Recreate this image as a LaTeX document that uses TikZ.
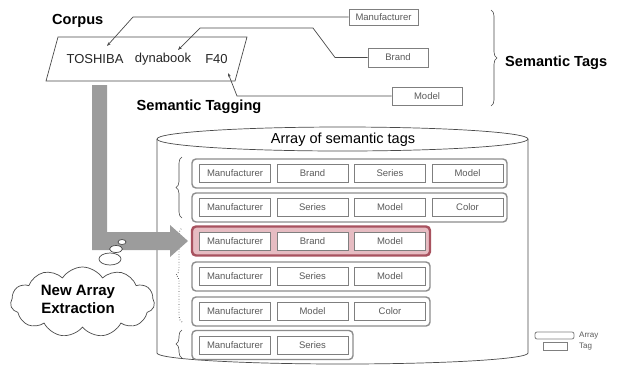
\documentclass[tikz,border=0pt]{standalone}
\usepackage{fontspec}
\setmainfont{Liberation Sans}
\usetikzlibrary{shapes.symbols,decorations.pathreplacing,arrows.meta}
\definecolor{tagline}{HTML}{7F7F7F}
\definecolor{tagtext}{HTML}{5A5A5A}
\definecolor{rowline}{HTML}{8C8C8C}
\definecolor{hlred}{HTML}{A8525F}
\definecolor{hlfill}{HTML}{E6BCC2}
\definecolor{arrowgray}{HTML}{9C9C9C}
\definecolor{inkline}{HTML}{4A4A4A}
\begin{document}
\begin{tikzpicture}[x=1pt,y=-1pt,
  tagbox/.style={draw=tagline, line width=0.8pt, minimum width=71pt, minimum height=18pt, inner sep=0pt, text=tagtext, font=\fontsize{9.5}{10}\selectfont, fill=white},
  toptag/.style={tagbox, minimum height=17pt},
  arraybox/.style={draw=rowline, line width=1.4pt, rounded corners=4pt, minimum height=29pt, inner sep=0pt},
  hlbox/.style={draw=hlred, line width=2.4pt, fill=hlfill, rounded corners=4pt, minimum height=29pt, inner sep=0pt},
  boldlabel/.style={font=\fontsize{14.6}{16}\selectfont\bfseries, inner sep=0pt},
  word/.style={font=\fontsize{13}{15}\selectfont, text=black!85, inner sep=0pt},
  conn/.style={draw=inkline, line width=0.7pt},
  tipconn/.style={conn, -{Stealth[length=4pt,width=3pt]}},
  leftbrace/.style={draw=inkline, line width=0.6pt, decorate, decoration={brace, amplitude=6pt}},
  shape line/.style={draw=inkline, line width=0.7pt},
  legendtext/.style={font=\fontsize{8}{9}\selectfont, text=tagtext, anchor=west, inner sep=0pt},
]
\useasboundingbox (0,0) rectangle (617,365);

% ---------- Corpus ----------
\node[boldlabel, anchor=west] (corpus) at (52,21) {Corpus};
\draw[shape line, fill=white] (58,37) -- (247,37) -- (235,81) -- (46,81) -- cycle;
\node[word] (toshiba) at (95,59) {TOSHIBA};
\node[word] (dynabook) at (163,59) {dynabook};
\node[word] (f40) at (216.5,59) {F40};
\coordinate (tipT) at (107,46);
\coordinate (tipD) at (178,50);
\coordinate (tipF) at (228,73);

% ---------- Semantic tags ----------
\node[toptag, minimum width=69pt, minimum height=16pt] (tmfr) at (383.5,17) {Manufacturer};
\node[toptag, minimum width=60pt, minimum height=19pt] (tbrand) at (398,57.5) {Brand};
\node[toptag, minimum width=70pt, minimum height=18pt] (tmodel) at (427,96) {Model};

\draw[tipconn] (tmfr.west) -- (133,17) -- (tipT);
\draw[tipconn] (tbrand.west) -- (335,57.5) -- (313,28) -- (200,28) -- (tipD);
\draw[tipconn] (tmodel.west) -- (237,96) -- (tipF);

\node[boldlabel] (tagging) at (199,107) {Semantic Tagging};

\draw[draw=inkline, line width=0.6pt, decorate, decoration={brace, amplitude=6pt}] (491,10) -- (491,106);
\node[boldlabel, anchor=west] (semtags) at (505,63) {Semantic Tags};

% ---------- Cylinder ----------
\draw[shape line, fill=white] (157,139) -- (157,353) arc[start angle=180, end angle=360, x radius=185.5pt, y radius=11pt] -- (528,139);
\draw[shape line, fill=white] (342.5,139) ellipse [x radius=185.5pt, y radius=12pt];
\node[font=\fontsize{14.5}{16}\selectfont, inner sep=0pt] (arraytitle) at (343,140) {Array of semantic tags};

% ---------- Rows ----------
% row 1
\node[arraybox, minimum width=315pt] (r1) at (349.5,173.5) {};
\node[tagbox] (r1a) at (235,173.5) {Manufacturer};
\node[tagbox] (r1b) at (312.5,173.5) {Brand};
\node[tagbox] (r1c) at (390,173.5) {Series};
\node[tagbox] (r1d) at (467.5,173.5) {Model};
% row 2
\node[arraybox, minimum width=315pt] (r2) at (349.5,207.5) {};
\node[tagbox] (r2a) at (235,207.5) {Manufacturer};
\node[tagbox] (r2b) at (312.5,207.5) {Series};
\node[tagbox] (r2c) at (390,207.5) {Model};
\node[tagbox] (r2d) at (467.5,207.5) {Color};
% row 3 (new)
\node[hlbox, minimum width=238pt] (r3) at (311,241) {};
\node[tagbox] (r3a) at (235,241) {Manufacturer};
\node[tagbox] (r3b) at (312.5,241) {Brand};
\node[tagbox] (r3c) at (390,241) {Model};
% row 4
\node[arraybox, minimum width=238pt] (r4) at (311,276.5) {};
\node[tagbox] (r4a) at (235,276.5) {Manufacturer};
\node[tagbox] (r4b) at (312.5,276.5) {Series};
\node[tagbox] (r4c) at (390,276.5) {Model};
% row 5
\node[arraybox, minimum width=238pt] (r5) at (311,311.5) {};
\node[tagbox] (r5a) at (235,311.5) {Manufacturer};
\node[tagbox] (r5b) at (312.5,311.5) {Model};
\node[tagbox] (r5c) at (390,311.5) {Color};
% row 6
\node[arraybox, minimum width=161pt] (r6) at (272.5,345) {};
\node[tagbox] (r6a) at (235,345) {Manufacturer};
\node[tagbox] (r6b) at (312.5,345) {Series};

% ---------- Left braces ----------
\draw[leftbrace] (182,218) -- (182,157);
\draw[leftbrace, dotted, line width=0.9pt] (182,322) -- (182,228);
\draw[leftbrace] (182,358) -- (182,330);

% ---------- Big gray arrow ----------
\fill[arrowgray] (92,85) -- (107,85) -- (107,232) -- (170,232) -- (170,225) -- (188,241)
  -- (170,257) -- (170,250) -- (92,250) -- cycle;

% ---------- Thought cloud ----------
\draw[shape line, fill=white] (110,259) ellipse [x radius=11pt, y radius=6pt];
\draw[shape line, fill=white] (116,249) ellipse [x radius=6.5pt, y radius=3.5pt];
\draw[shape line, fill=white] (122,242) ellipse [x radius=4pt, y radius=2.5pt];
\node[cloud, cloud puffs=11, cloud puff arc=115, aspect=2.1, draw=inkline, line width=0.7pt, fill=white,
      minimum width=144pt, minimum height=70pt, inner sep=0pt] (cloud) at (82.5,302) {};
\node[boldlabel, align=center, font=\fontsize{15}{18}\selectfont\bfseries] (newarray) at (78,299) {New Array\\Extraction};

% ---------- Legend ----------
\node[draw=tagline, line width=0.8pt, rounded corners=2pt, minimum width=39pt, minimum height=7pt, inner sep=0pt] (legarr) at (554.5,335.5) {};
\node[draw=tagline, line width=0.8pt, minimum width=24pt, minimum height=8pt, inner sep=0pt] (legtag) at (555,346) {};
\node[legendtext] (legarrtxt) at (579,335.5) {Array};
\node[legendtext] (legtagtxt) at (579,347) {Tag};
\end{tikzpicture}
\end{document}
